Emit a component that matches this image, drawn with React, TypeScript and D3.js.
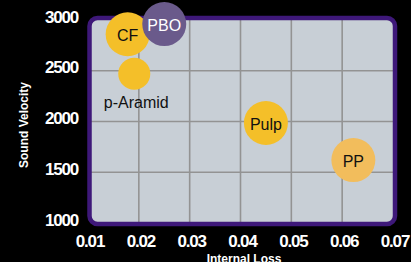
import React from 'react';
import * as d3 from 'd3';

// data
const materials = ['CF', 'PBO', 'p-Aramid', 'Pulp', 'PP'];
const internalLoss = [0.0178, 0.025, 0.0191, 0.045, 0.0622];
const soundVelocity = [2860, 2960, 2470, 1985, 1620];
const bubbleWeight = [1, 1, 0.53, 1, 1];
const xTicks = [0.01, 0.02, 0.03, 0.04, 0.05, 0.06, 0.07];
const yTicks = [1000, 1500, 2000, 2500, 3000];

const W = 411;
const H = 262;

const fills: Record<string, string> = {
  CF: '#f4bf29',
  PBO: '#6a5a8b',
  'p-Aramid': '#f4bf29',
  Pulp: '#f4bf29',
  PP: '#f2bd5c',
};

const App = () => {
  const x = d3.scaleLinear().domain([0.01, 0.07]).range([88, 393]);
  const y = d3.scaleLinear().domain([1000, 3000]).range([223, 20]);
  const r = d3.scaleSqrt().domain([0, 1]).range([0, 22]);

  const pts = materials.map((m, i) => ({
    name: m,
    x: x(internalLoss[i]),
    y: y(soundVelocity[i]),
    r: r(bubbleWeight[i]),
  }));
  // PBO sits on top of CF
  const order = ['CF', 'p-Aramid', 'Pulp', 'PP', 'PBO'];
  const drawn = order.map(n => pts.find(p => p.name === n)!);

  const font = '"Liberation Sans", Arial, Helvetica, sans-serif';

  return (
    <svg width={W} height={H} style={{ display: 'block', position: 'absolute', left: 0, top: 0 }}>
      <rect x={0} y={0} width={W} height={H} fill="#000" />

      {/* plot panel */}
      <rect x={x(0.01) + 1.5} y={y(3000) - 2} width={x(0.07) - x(0.01) + 0.5} height={y(1000) - y(3000) + 3}
        rx={8} fill="#c8cfd6" />
      {xTicks.slice(1, -1).map(t => (
        <line key={'gx' + t} x1={x(t)} x2={x(t)} y1={y(3000)} y2={y(1000)} stroke="#939393" strokeWidth={1.6} />
      ))}
      {yTicks.slice(1, -1).map(t => (
        <line key={'gy' + t} x1={x(0.01)} x2={x(0.07)} y1={y(t)} y2={y(t)} stroke="#939393" strokeWidth={1.6} />
      ))}
      <rect x={x(0.01) + 1.5} y={y(3000) - 2} width={x(0.07) - x(0.01) + 0.5} height={y(1000) - y(3000) + 3}
        rx={8} fill="none" stroke="#3e1879" strokeWidth={4.5} />

      {/* tick labels */}
      {yTicks.map(t => (
        <text key={'ty' + t} x={78} y={y(t) - 3} textAnchor="end" dominantBaseline="central"
          fill="#fff" fontFamily={font} fontWeight="bold" fontSize={17} letterSpacing={-1.2}>
          {t}
        </text>
      ))}
      {xTicks.map(t => (
        <text key={'tx' + t} x={x(t) + 2} y={247} textAnchor="middle"
          fill="#fff" fontFamily={font} fontWeight="bold" fontSize={17} letterSpacing={-1.2}>
          {d3.format('.2f')(t)}
        </text>
      ))}

      {/* axis titles */}
      <text x={244} y={262.5} textAnchor="middle" fill="#fff" fontFamily={font} fontWeight="bold" fontSize={12}>
        Internal Loss
      </text>
      <text transform="translate(28,125) rotate(-90)" textAnchor="middle" fill="#fff"
        fontFamily={font} fontWeight="bold" fontSize={12}>
        Sound Velocity
      </text>

      {/* bubbles */}
      {drawn.map(p => (
        <g key={p.name}>
          <circle cx={p.x} cy={p.y} r={p.r} fill={fills[p.name]} />
          {p.name === 'p-Aramid' ? (
            <text x={p.x + 2} y={p.y + 29} textAnchor="middle" dominantBaseline="central"
              fontFamily={font} fontSize={16} fill="#111">{p.name}</text>
          ) : (
            <text x={p.x} y={p.y + 1} textAnchor="middle" dominantBaseline="central"
              fontFamily={font} fontSize={16} fill={p.name === 'PBO' ? '#fff' : '#111'}>{p.name}</text>
          )}
        </g>
      ))}
    </svg>
  );
};

export default App;
